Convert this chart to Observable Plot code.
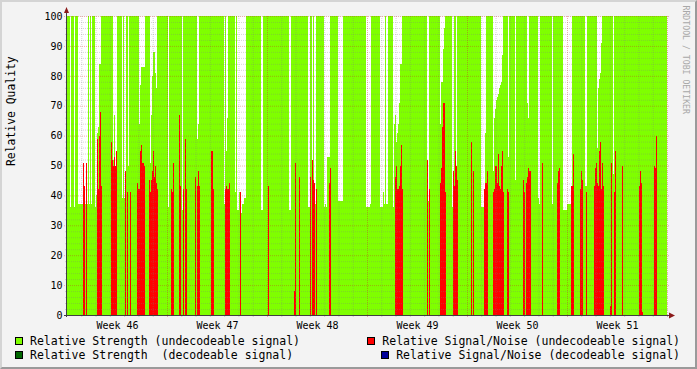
<!DOCTYPE html>
<html><head><meta charset="utf-8">
<script src="https://cdn.jsdelivr.net/npm/d3@7"></script>
<script src="https://cdn.jsdelivr.net/npm/@observablehq/plot@0.6"></script>
<style>
body{margin:0;background:#F3F3F3;}
#chart{position:relative;width:697px;height:369px;background:#F3F3F3;overflow:hidden;font-family:"DejaVu Sans Mono",monospace;}
#chart svg{position:absolute;left:0;top:0;}
#frame{position:absolute;left:0;top:0;width:697px;height:369px;box-sizing:border-box;border-top:2px solid #D4D4D4;border-left:2px solid #D4D4D4;border-right:2px solid #9A9A9A;border-bottom:2px solid #9A9A9A;pointer-events:none;}
.lrow{position:absolute;display:flex;align-items:center;height:14px;font-size:11.5px;white-space:pre;color:#000;}
.sw{width:8px;height:8px;border:1px solid #000;box-sizing:border-box;margin-right:7px;}
</style></head><body>
<div id="chart"></div>
<script>
// one RRD step per pixel column: 6048 s = 0.07 day; 600 samples = 6 weeks
const sampleDays = 0.07;
const nSamples = 600;

// Relative Strength (undecodeable): samples below 100 as [fromSample, toSample, value]; all others are 100
const strengthDips = [
  [3,3,36],[7,7,36],[11,20,37],[22,22,37],[24,24,37],[28,28,36],[29,29,40],[30,30,61],[31,31,63],[32,33,84],
  [46,46,52],[47,47,67],[48,48,48],[49,49,55],[55,55,39],[57,57,39],[58,58,40],[61,61,50],
  [72,72,64],[73,73,77],[74,77,83],[83,83,51],[84,84,67],[85,85,80],[86,87,88],[88,88,81],[89,89,76],
  [101,101,36],[115,115,35],[130,130,59],[131,131,64],
  [157,157,37],[159,159,55],[160,160,66],[168,168,41],[170,171,35],[172,173,41],[174,174,34],[175,176,37],[177,178,39],
  [194,195,35],[222,223,35],[241,242,36],[245,245,43],[247,248,37],
  [257,257,36],[258,258,37],[259,259,36],[260,262,53],[271,275,38],
  [299,302,36],[303,303,37],[313,315,36],[316,316,41],[317,317,37],[319,320,37],
  [326,326,36],[327,327,64],[328,328,67],[329,329,58],[330,330,61],[331,331,64],[332,332,71],[333,334,84],
  [360,361,38],[373,373,64],[374,375,78],[376,376,89],[377,377,96],[385,385,36],[386,386,48],[389,389,45],
  [414,417,36],[418,418,61],[426,426,48],[427,427,66],[428,428,69],[429,429,72],[430,430,73],[431,431,74],
  [432,432,76],[433,433,77],[434,434,78],[435,435,87],
  [441,441,53],[448,448,45],[460,460,71],[461,461,66],[471,471,39],[472,472,37],[485,485,37],
  [496,499,35],[500,504,37],[518,519,43],[530,530,56],[531,531,76],[532,532,79],[533,533,81],[534,534,91],[546,546,47]
];

// Relative Signal/Noise (undecodeable): [sample, value]
const snrUndecodeable = [
  [16,51],[17,43],[19,51],[30,59],[31,42],[32,60],[33,68],[34,43],
  [44,58],[45,52],[46,50],[47,53],[48,50],[49,55],[58,48],[60,41],[63,41],
  [70,44],[71,42],[72,42],[73,55],[74,57],[75,51],[76,51],[77,50],
  [82,45],[83,41],[84,45],[85,48],[86,55],[87,46],[88,50],[89,44],[90,42],
  [104,42],[105,41],[106,51],[112,67],[113,43],[116,42],[118,59],[119,42],
  [128,46],[130,43],[131,48],[132,43],[144,55],[145,55],[146,42],
  [158,42],[159,43],[160,42],[161,42],[162,44],[173,41],
  [201,43],[227,8],[228,51],[232,46],[243,46],[245,52],[246,45],[247,44],[249,42],[262,44],[263,49],
  [328,46],[329,50],[330,42],[331,42],[332,43],[333,50],[334,57],[335,42],
  [360,52],[362,42],[373,44],[374,49],[375,63],[376,71],[377,71],[378,41],
  [386,48],[387,43],[388,55],[389,50],[390,45],
  [404,58],[406,48],[417,42],[418,44],[419,44],[420,48],
  [426,41],[427,42],[428,50],[429,50],[430,44],[431,54],[432,43],[433,42],[434,50],[435,55],[436,41],
  [440,42],[441,41],[456,45],[457,41],[459,44],[460,46],[461,49],[462,48],[463,48],
  [475,51],[490,44],[491,48],[492,49],
  [504,43],[505,43],[506,54],[513,42],[514,48],[515,45],[519,41],
  [527,43],[528,49],[529,51],[530,44],[531,43],[532,55],[533,58],[534,42],[535,51],[536,43],
  [543,3],[544,51],[547,41],[548,55],[555,50],
  [572,43],[573,48],[574,44],[575,1],[587,50],[588,49],[589,60]
];

const weekLabels = ["Week 46","Week 47","Week 48","Week 49","Week 50","Week 51"];
const yTicks = [0,10,20,30,40,50,60,70,80,90,100];
const yTitle = "Relative Quality";
const watermark = "RRDTOOL / TOBI OETIKER";

const legendLabels = [
  "Relative Strength (undecodeable signal)",
  "Relative Signal/Noise (undecodeable signal)",
  "Relative Strength  (decodeable signal)",
  "Relative Signal/Noise (decodeable signal)"
];
const seriesColors = ["#7FFF00", "#FF0000", "#006600", "#000099"];

// ---- build tables ----
const strengthValues = new Array(nSamples).fill(100);
for (const [a, b, val] of strengthDips) for (let i = a; i <= b; i++) strengthValues[i] = val;
const strengthRows = [];
let runStart = 0;
for (let i = 1; i <= nSamples; i++) {
  if (i === nSamples || strengthValues[i] !== strengthValues[runStart]) {
    strengthRows.push({x1: runStart * sampleDays, x2: i * sampleDays, y1: 0, y2: strengthValues[runStart]});
    runStart = i;
  }
}
const snrRows = snrUndecodeable.map(([i, val]) => ({x1: i * sampleDays, x2: (i + 1) * sampleDays, y1: 0, y2: val}));

const totalDays = nSamples * sampleDays;
const weekMid = weekLabels.map((_, k) => 7 * k + 3.5);
const majorX = d3.range(7, totalDays + 0.01, 7);
const minorX = d3.range(1, totalDays, 1).filter(d => Math.round(d) % 7 !== 0);
const majorY = yTicks.filter(d => d > 0);
const minorY = d3.range(2, 100, 2).filter(d => d % 10 !== 0);

const axesMark = (index, scales, values, dims) => {
  const ns = "http://www.w3.org/2000/svg";
  const g = document.createElementNS(ns, "g");
  const L = dims.marginLeft, B = dims.height - dims.marginBottom, R = dims.width - dims.marginRight, T = dims.marginTop;
  const add = (tag, attrs) => { const e = document.createElementNS(ns, tag); for (const k in attrs) e.setAttribute(k, attrs[k]); g.appendChild(e); };
  add("line", {x1: L - 0.5, y1: B + 2, x2: L - 0.5, y2: T - 3, stroke: "#404040", "stroke-width": 1, "shape-rendering": "crispEdges"});
  add("line", {x1: L - 3, y1: B + 0.5, x2: R + 2, y2: B + 0.5, stroke: "#404040", "stroke-width": 1, "shape-rendering": "crispEdges"});
  add("path", {d: `M${L - 3},${T - 3}L${L + 2},${T - 3}L${L - 0.5},${T - 9}Z`, fill: "#8B1A1A"});
  add("path", {d: `M${R + 2},${B - 2.5}L${R + 2},${B + 3.5}L${R + 8},${B + 0.5}Z`, fill: "#8B1A1A"});
  return g;
};

const gridMinor = {stroke: "#808080", strokeOpacity: 0.32, strokeDasharray: "1,1"};
const gridMajor = {stroke: "#D02020", strokeOpacity: 0.35, strokeDasharray: "1,1"};

const plot = Plot.plot({
  width: 697, height: 332,
  marginLeft: 67, marginRight: 30, marginTop: 16, marginBottom: 17,
  x: {domain: [0, totalDays], axis: null},
  y: {domain: [0, 100], axis: null},
  style: {background: "transparent", fontFamily: "'DejaVu Sans Mono', monospace", fontSize: "10px", color: "#000", overflow: "visible"},
  marks: [
    Plot.frame({fill: "#FFFFFF", stroke: null}),
    Plot.rect(strengthRows, {x1: "x1", x2: "x2", y1: "y1", y2: "y2", fill: seriesColors[0], shapeRendering: "crispEdges"}),
    Plot.rect(snrRows, {x1: "x1", x2: "x2", y1: "y1", y2: "y2", fill: seriesColors[1], shapeRendering: "crispEdges"}),
    Plot.ruleY(minorY, {...gridMinor, insetLeft: -2, insetRight: -2}),
    Plot.ruleX(minorX, {...gridMinor, insetBottom: -2}),
    Plot.ruleY(majorY, {...gridMajor, insetLeft: -3, insetRight: -3}),
    Plot.ruleX(majorX, {...gridMajor, insetBottom: -3}),
    Plot.axisY(yTicks, {anchor: "left", tickSize: 0, tickPadding: 5, fontSize: 10, label: null}),
    Plot.axisX(weekMid, {anchor: "bottom", tickSize: 0, tickPadding: 6, fontSize: 10, label: null,
      tickFormat: d => weekLabels[weekMid.indexOf(d)]}),
    Plot.text([yTitle], {frameAnchor: "left", dx: -56, rotate: -90, fontSize: 11.4, fill: "#000"}),
    Plot.text([watermark], {frameAnchor: "top-right", dx: 21, dy: -11, rotate: 90, textAnchor: "start", fontSize: 8.2, fill: "#A8A8A8"}),
    axesMark
  ]
});

const chart = document.getElementById("chart");
chart.appendChild(plot);

// legend (HTML, below the SVG)
function legendItem(label, color, pos) {
  const row = document.createElement("div");
  row.className = "lrow";
  Object.assign(row.style, pos);
  const sw = document.createElement("div");
  sw.className = "sw";
  sw.style.background = color;
  const t = document.createElement("span");
  t.textContent = label;
  row.appendChild(sw); row.appendChild(t);
  chart.appendChild(row);
}
legendItem(legendLabels[0], seriesColors[0], {left: "15px", top: "334px"});
legendItem(legendLabels[2], seriesColors[2], {left: "15px", top: "348px"});
legendItem(legendLabels[1], seriesColors[1], {right: "17px", top: "334px"});
legendItem(legendLabels[3], seriesColors[3], {right: "17px", top: "348px"});

const frame = document.createElement("div");
frame.id = "frame";
chart.appendChild(frame);
</script>
</body></html>
